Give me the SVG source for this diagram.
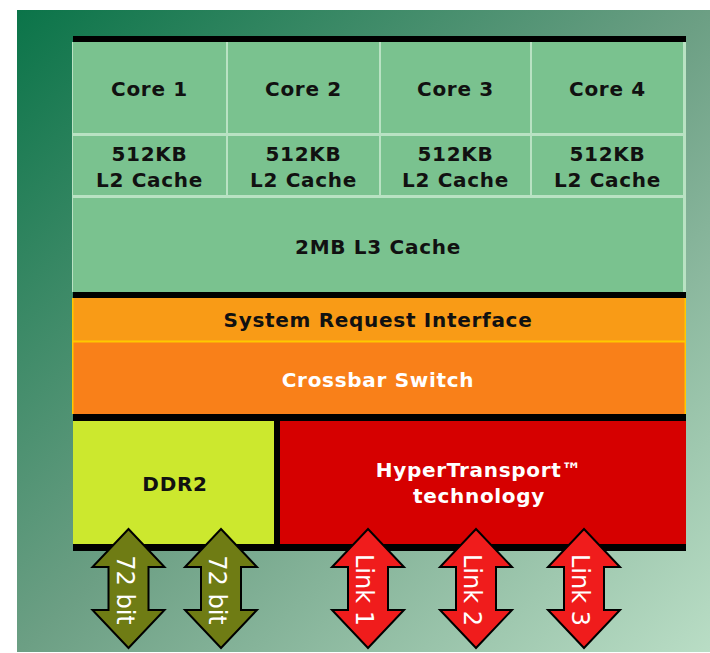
<svg xmlns="http://www.w3.org/2000/svg" width="710" height="653" viewBox="0 0 710 653">
  <defs>
    <linearGradient id="bg" x1="0" y1="0" x2="1" y2="1">
      <stop offset="0" stop-color="#0B7449"/>
      <stop offset="0.5" stop-color="#6C9F84"/>
      <stop offset="1" stop-color="#B9DDC5"/>
    </linearGradient>
    <path id="arrow" d="M0,529 L36,567 H20 V610 H36 L0,648 L-36,610 H-20 V567 H-36 Z"/>
  </defs>
  <style>
    .lbl { font-family: "DejaVu Sans", Verdana, sans-serif; font-weight: bold; font-size: 20px; letter-spacing: 0.7px; text-anchor: middle; fill: #111; }
    .wht { fill: #fff; }
    .cell { fill: #7AC28F; }
    .bar { fill: #000; }
    .arr-text { font-family: "DejaVu Sans", Verdana, sans-serif; font-size: 24px; text-anchor: middle; fill: #fff; }
    .olive { fill: #6F7C14; stroke: #000; stroke-width: 2; stroke-linejoin: miter; }
    .red { fill: #F01C1C; stroke: #000; stroke-width: 2; stroke-linejoin: miter; }
  </style>

  <rect x="0" y="0" width="710" height="653" fill="#fff"/>
  <rect x="17" y="10" width="693" height="642" fill="url(#bg)"/>

  <!-- grid backing -->
  <rect x="72" y="42" width="614" height="250" fill="#B9E2C3"/>

  <g id="core1"><rect class="cell" x="73" y="42" width="153" height="91"/><text class="lbl" x="149.5" y="96">Core 1</text></g>
  <g id="core2"><rect class="cell" x="228" y="42" width="151" height="91"/><text class="lbl" x="303.5" y="96">Core 2</text></g>
  <g id="core3"><rect class="cell" x="381" y="42" width="149" height="91"/><text class="lbl" x="455.5" y="96">Core 3</text></g>
  <g id="core4"><rect class="cell" x="532" y="42" width="151" height="91"/><text class="lbl" x="607.5" y="96">Core 4</text></g>

  <g id="l2-1"><rect class="cell" x="73" y="136" width="153" height="59"/><text class="lbl" x="149.5" y="161">512KB</text><text class="lbl" x="149.5" y="187">L2 Cache</text></g>
  <g id="l2-2"><rect class="cell" x="228" y="136" width="151" height="59"/><text class="lbl" x="303.5" y="161">512KB</text><text class="lbl" x="303.5" y="187">L2 Cache</text></g>
  <g id="l2-3"><rect class="cell" x="381" y="136" width="149" height="59"/><text class="lbl" x="455.5" y="161">512KB</text><text class="lbl" x="455.5" y="187">L2 Cache</text></g>
  <g id="l2-4"><rect class="cell" x="532" y="136" width="151" height="59"/><text class="lbl" x="607.5" y="161">512KB</text><text class="lbl" x="607.5" y="187">L2 Cache</text></g>

  <g id="l3"><rect class="cell" x="73" y="198" width="610" height="94"/><text class="lbl" x="378" y="254">2MB L3 Cache</text></g>

  <!-- orange section -->
  <rect x="72" y="298" width="614" height="116" fill="#FFC800"/>
  <g id="sri"><rect x="73.5" y="298" width="611" height="42.5" fill="#F99B16"/><text class="lbl" x="378" y="327">System Request Interface</text></g>
  <g id="crossbar"><rect x="73.5" y="342.5" width="611" height="71.5" fill="#F98019"/><text class="lbl wht" x="378" y="387">Crossbar Switch</text></g>

  <g id="ddr2"><rect x="73" y="421" width="201" height="123" fill="#CCE82E"/><text class="lbl" x="175" y="491">DDR2</text></g>
  <g id="hypertransport"><rect x="280" y="421" width="406" height="123" fill="#D60000"/><text class="lbl wht" x="479" y="477">HyperTransport™</text><text class="lbl wht" x="479" y="503">technology</text></g>

  <!-- black bars -->
  <rect class="bar" x="73" y="36" width="613" height="6"/>
  <rect class="bar" x="73" y="292" width="613" height="6"/>
  <rect class="bar" x="73" y="414" width="613" height="7"/>
  <rect class="bar" x="274" y="421" width="6" height="123"/>
  <rect class="bar" x="73" y="544" width="613" height="7"/>

  <g id="connectors">
    <g id="mem1"><use href="#arrow" class="olive" transform="translate(128.5,0)"/><text class="arr-text" transform="translate(128.5,590) rotate(90)" x="0" y="12">72 bit</text></g>
    <g id="mem2"><use href="#arrow" class="olive" transform="translate(221,0)"/><text class="arr-text" transform="translate(221,590) rotate(90)" x="0" y="12">72 bit</text></g>
    <g id="link1"><use href="#arrow" class="red" transform="translate(368,0)"/><text class="arr-text" transform="translate(368,590) rotate(90)" x="0" y="12">Link 1</text></g>
    <g id="link2"><use href="#arrow" class="red" transform="translate(476,0)"/><text class="arr-text" transform="translate(476,590) rotate(90)" x="0" y="12">Link 2</text></g>
    <g id="link3"><use href="#arrow" class="red" transform="translate(584,0)"/><text class="arr-text" transform="translate(584,590) rotate(90)" x="0" y="12">Link 3</text></g>
  </g>
</svg>
